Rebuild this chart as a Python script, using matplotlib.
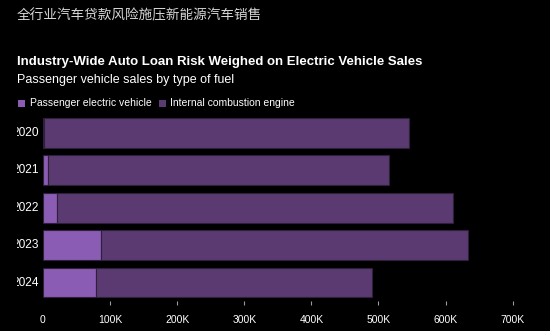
import matplotlib.pyplot as plt
from matplotlib.transforms import Bbox, TransformedBbox
from matplotlib.patches import Rectangle

# passenger vehicle sales by fuel type (units)
years = ["2020", "2021", "2022", "2023", "2024"]
ev_sales = [1000, 8000, 21000, 87000, 79000]
ice_sales = [544000, 508000, 590000, 546000, 412000]
xticks = [0, 100000, 200000, 300000, 400000, 500000, 600000, 700000]
xtick_labels = ["0", "100K", "200K", "300K", "400K", "500K", "600K", "700K"]

ev_color = "#8a5cb4"
ice_color = "#5a3a70"
edge_color = "#2e1f3d"
bg = "#000000"

plt.rcParams["font.family"] = ["Liberation Sans", "Noto Sans CJK SC", "DejaVu Sans"]

W, H = 550, 331
fig = plt.figure(figsize=(W / 100, H / 100), dpi=100, facecolor=bg)

# axes placed in pixel terms
left, right, top, bottom = 43, 539.5, 114.3, 301.2
ax = fig.add_axes([left / W, 1 - bottom / H, (right - left) / W, (bottom - top) / H])
ax.set_facecolor(bg)

pos = list(range(len(years)))
ax.barh(pos, ev_sales, height=0.8, color=ev_color, edgecolor=edge_color, linewidth=0.8)
ax.barh(pos, ice_sales, left=ev_sales, height=0.8, color=ice_color, edgecolor=edge_color, linewidth=0.8)

ax.set_xlim(0, 740000)
ax.set_ylim(len(years) - 0.5, -0.5)
for s in ax.spines.values():
    s.set_visible(False)

ax.set_xticks(xticks)
ax.set_xticklabels(xtick_labels)
ax.tick_params(axis="x", colors="#9a9a9a", length=3, width=0.8, pad=7, labelsize=7.5, labelcolor="white")
ax.xaxis.get_major_ticks()[0].tick1line.set_visible(False)
ax.set_yticks([])

# year labels, cut off at the left edge of the panel
clip = TransformedBbox(Bbox([[17 / W, 0], [1, 1]]), fig.transFigure)
for i, yr in enumerate(years):
    t = ax.text(-4 / 0.671 * 1000, i, yr, ha="right", va="center", color="white", fontsize=8.6, clip_on=True)
    t.set_clip_box(clip)

# headings
fig.text(17 / W, 1 - 15 / H, "全行业汽车贷款风险施压新能源汽车销售", color="#d6d6d6", fontsize=9.8,
         va="center", ha="left", family=["Noto Sans CJK SC", "DejaVu Sans"])
fig.text(17 / W, 1 - 62 / H, "Industry-Wide Auto Loan Risk Weighed on Electric Vehicle Sales",
         color="white", fontsize=9.5, fontweight="bold", va="center", ha="left")
fig.text(17 / W, 1 - 80 / H, "Passenger vehicle sales by type of fuel", color="white", fontsize=9.0,
         va="center", ha="left")

# legend
fig.patches.append(Rectangle((18 / W, 1 - 107 / H), 7 / W, 7 / H, transform=fig.transFigure,
                             facecolor=ev_color, edgecolor="none"))
fig.text(30 / W, 1 - 103 / H, "Passenger electric vehicle", color="white", fontsize=7.5, va="center", ha="left")
fig.patches.append(Rectangle((159 / W, 1 - 107 / H), 7 / W, 7 / H, transform=fig.transFigure,
                             facecolor=ice_color, edgecolor="none"))
fig.text(170 / W, 1 - 103 / H, "Internal combustion engine", color="white", fontsize=7.5, va="center", ha="left")

fig.savefig("out.png", dpi=100, facecolor=bg)
